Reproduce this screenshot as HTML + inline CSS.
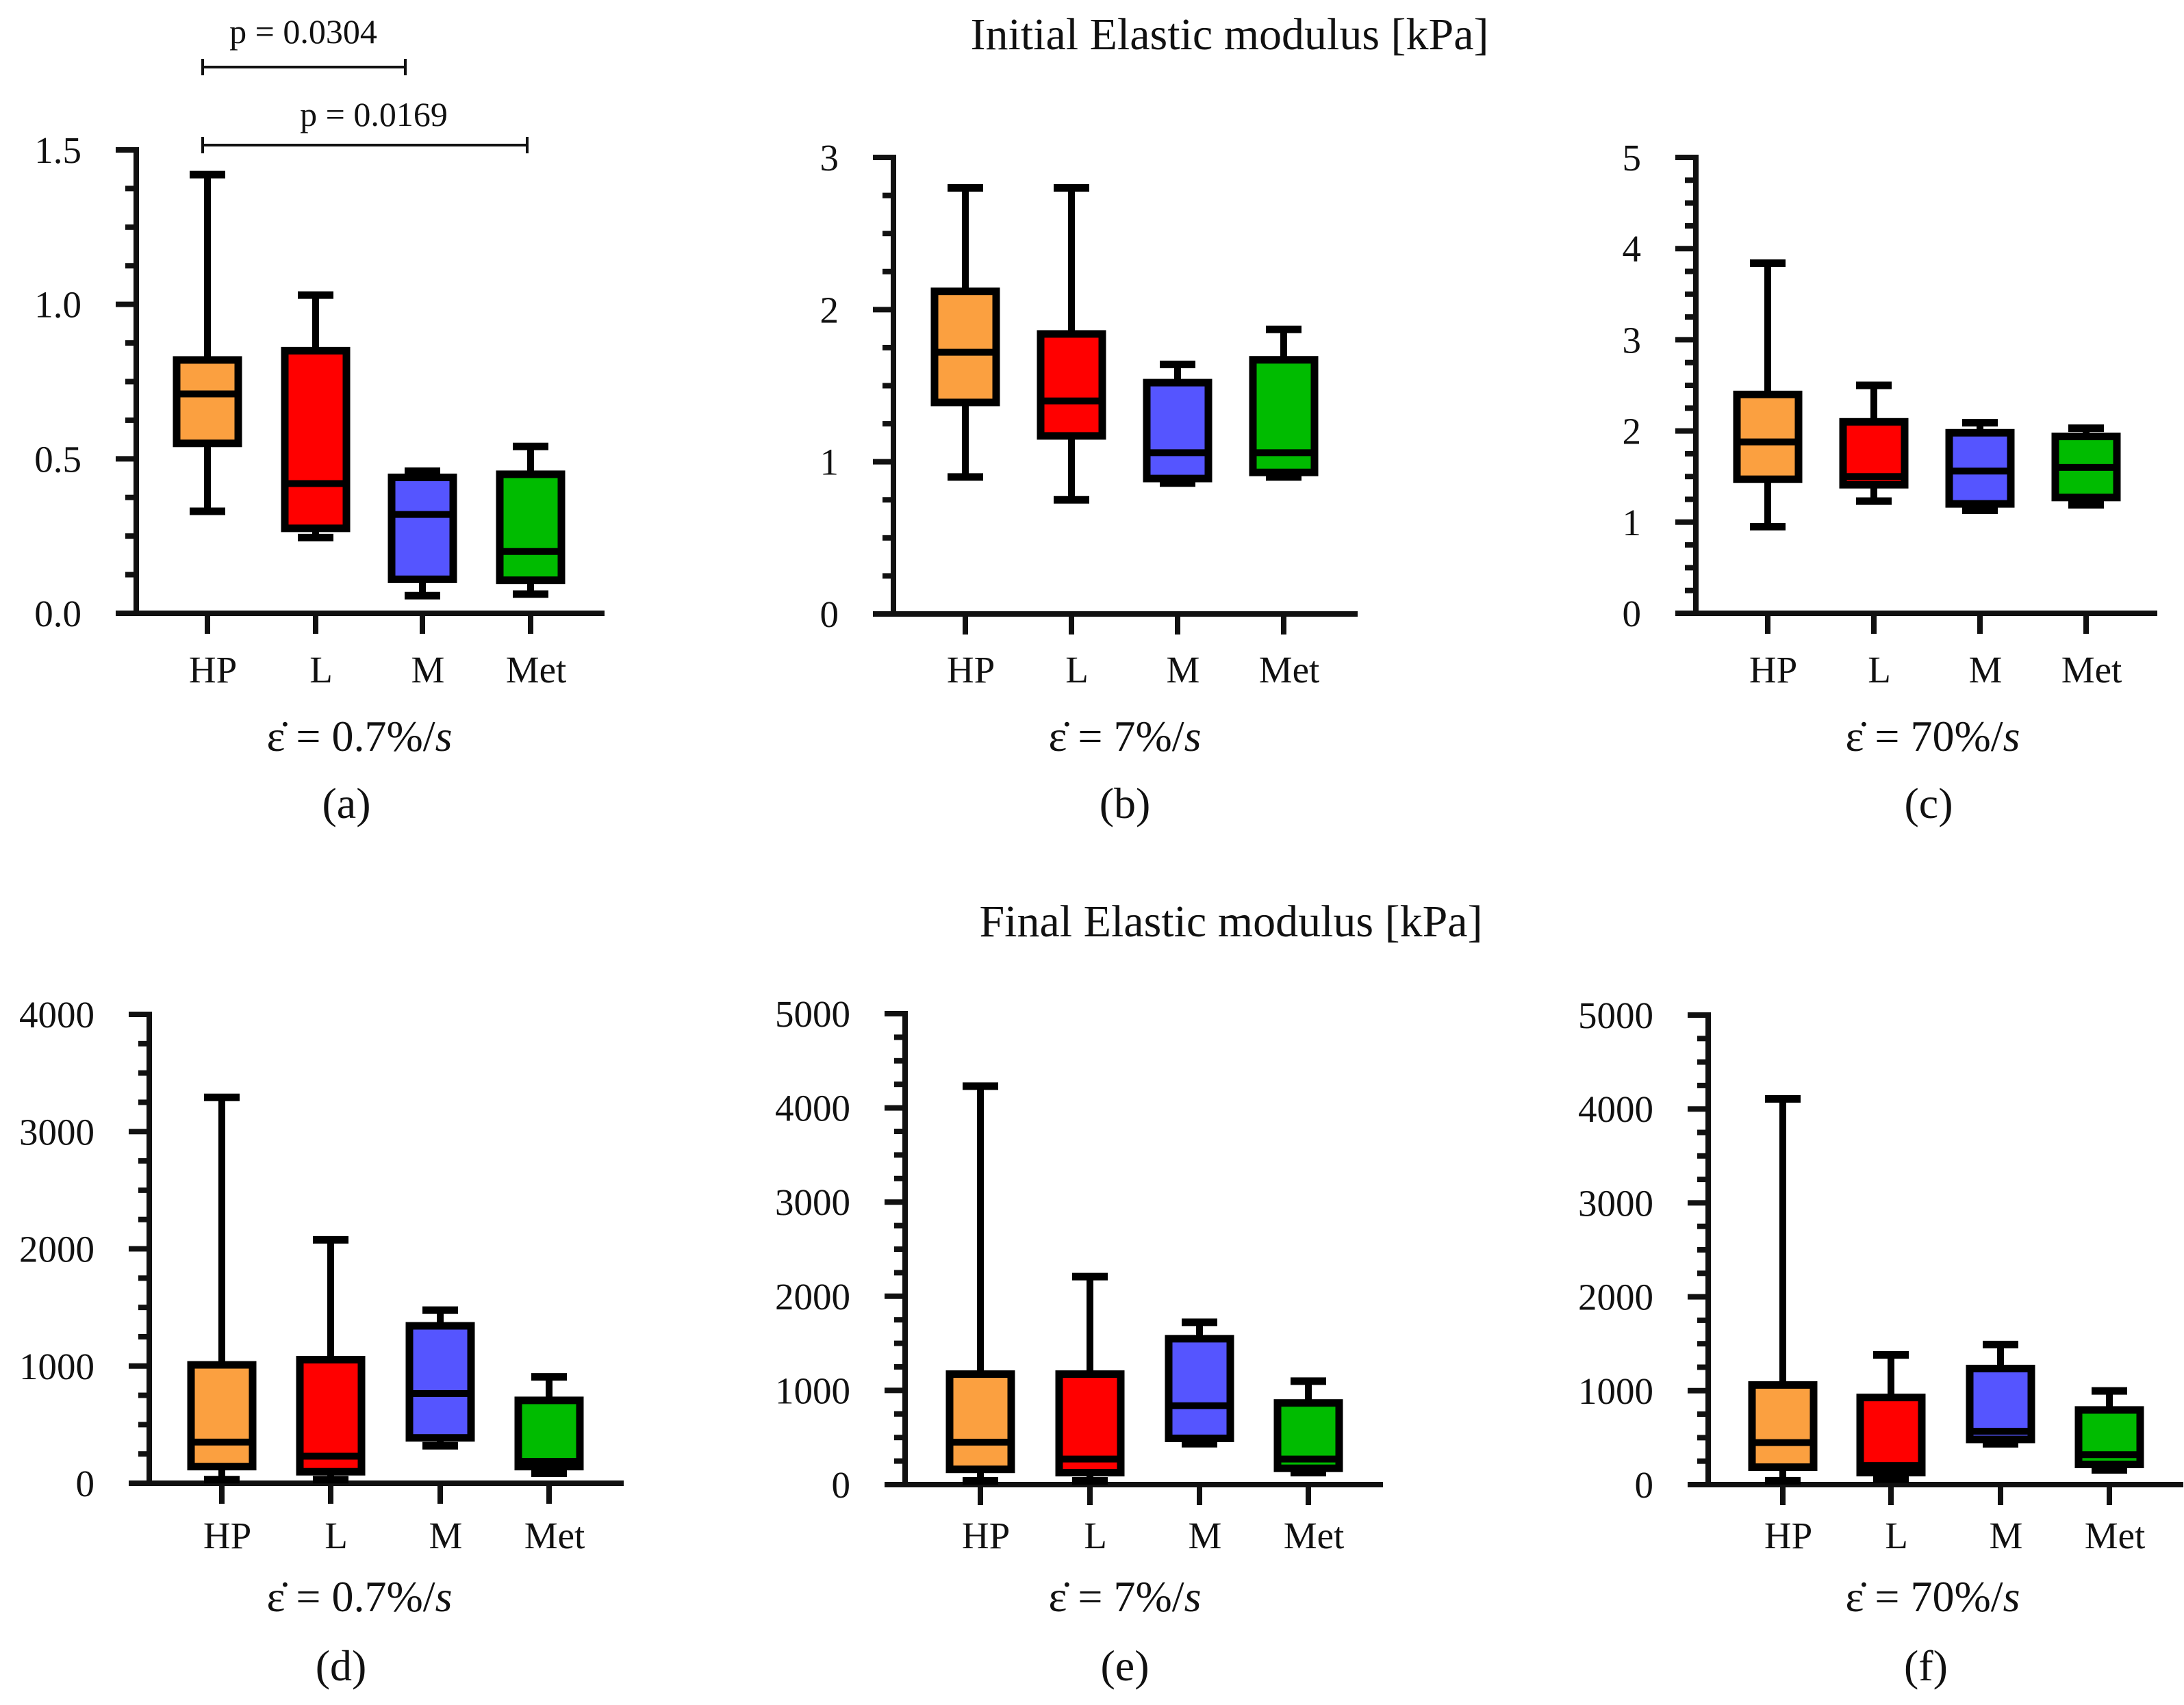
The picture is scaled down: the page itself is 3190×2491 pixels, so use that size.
<!DOCTYPE html>
<html><head><meta charset="utf-8"><style>
html,body{margin:0;padding:0;background:#fff}
svg{display:block}
text{font-family:"Liberation Serif",serif;fill:#111}
</style></head><body>
<svg id="fig" width="3190" height="2491" viewBox="0 0 3190 2491" xmlns="http://www.w3.org/2000/svg">
<text x="1796" y="72" font-size="66" text-anchor="middle">Initial Elastic modulus [kPa]</text>
<text x="1798" y="1368" font-size="66" text-anchor="middle">Final Elastic modulus [kPa]</text>
<g stroke="#111" stroke-width="4">
<line x1="296" y1="98" x2="592" y2="98"/><line x1="296" y1="86" x2="296" y2="110"/><line x1="592" y1="86" x2="592" y2="110"/>
<line x1="296" y1="212" x2="770" y2="212"/><line x1="296" y1="200" x2="296" y2="224"/><line x1="770" y1="200" x2="770" y2="224"/>
</g>
<text x="443" y="63" font-size="50" text-anchor="middle">p = 0.0304</text>
<text x="546" y="184" font-size="50" text-anchor="middle">p = 0.0169</text>
</svg>
<script>
const categories = ["HP","L","M","Met"];
const colors = ["#FBA040","#FF0000","#5555FF","#00BB00"];
// [min, q1, median, q3, max] per category
const seriesA = [[0.33,0.55,0.71,0.82,1.42],[0.245,0.275,0.42,0.85,1.03],[0.057,0.11,0.32,0.44,0.46],[0.062,0.107,0.2,0.45,0.54]];
const seriesB = [[0.90,1.39,1.72,2.12,2.80],[0.75,1.17,1.40,1.84,2.80],[0.86,0.89,1.06,1.52,1.64],[0.90,0.93,1.06,1.67,1.87]];
const seriesC = [[0.95,1.47,1.88,2.40,3.84],[1.23,1.41,1.50,2.10,2.50],[1.13,1.20,1.56,1.98,2.09],[1.19,1.27,1.60,1.94,2.03]];
const seriesD = [[31,142,351,1010,3292],[31,98,231,1054,2077],[320,387,765,1343,1477],[85,142,187,707,907]];
const seriesE = [[40,162,451,1173,4231],[40,127,272,1173,2208],[434,491,838,1549,1723],[127,173,272,867,1098]];
const seriesF = [[41,186,447,1061,4107],[58,128,203,928,1381],[435,481,568,1236,1491],[157,215,319,795,998]];
const ticksA = ["0.0","0.5","1.0","1.5"];
const ticksB = ["0","1","2","3"];
const ticksC = ["0","1","2","3","4","5"];
const ticksD = ["0","1000","2000","3000","4000"];
const ticksE = ["0","1000","2000","3000","4000","5000"];
const ticksF = ["0","1000","2000","3000","4000","5000"];
const tickValsA = [0,0.5,1,1.5];
const tickValsB = [0,1,2,3];
const tickValsC = [0,1,2,3,4,5];
const tickValsD = [0,1000,2000,3000,4000];
const tickValsE = [0,1000,2000,3000,4000,5000];
const tickValsF = [0,1000,2000,3000,4000,5000];

const panels = [
 {id:"a",data:seriesA,ticks:ticksA,tv:tickValsA,max:1.5,ax:199,top:219,bot:896,cx:[303,461,617,775],end:883,rate:"0.7",sx:525,lx:506,sy:1097,ly:1195,cy:997},
 {id:"b",data:seriesB,ticks:ticksB,tv:tickValsB,max:3,ax:1305,top:230,bot:897,cx:[1410,1565,1720,1875],end:1983,rate:"7",sx:1643,lx:1643,sy:1097,ly:1195,cy:997},
 {id:"c",data:seriesC,ticks:ticksC,tv:tickValsC,max:5,ax:2477,top:230,bot:896,cx:[2582,2737,2892,3047],end:3151,rate:"70",sx:2823,lx:2817,sy:1097,ly:1195,cy:997},
 {id:"d",data:seriesD,ticks:ticksD,tv:tickValsD,max:4000,ax:218,top:1482,bot:2167,cx:[324,483,643,802],end:911,rate:"0.7",sx:525,lx:498,sy:2354,ly:2455,cy:2262},
 {id:"e",data:seriesE,ticks:ticksE,tv:tickValsE,max:5000,ax:1322,top:1481,bot:2169,cx:[1432,1592,1752,1911],end:2020,rate:"7",sx:1643,lx:1643,sy:2354,ly:2455,cy:2262},
 {id:"f",data:seriesF,ticks:ticksF,tv:tickValsF,max:5000,ax:2495,top:1483,bot:2169,cx:[2604,2762,2922,3081],end:3189,rate:"70",sx:2823,lx:2813,sy:2354,ly:2455,cy:2262}
];
const NS="http://www.w3.org/2000/svg";
const svg=document.getElementById("fig");
function mk(tag,attrs,parent){const e=document.createElementNS(NS,tag);for(const k in attrs)e.setAttribute(k,attrs[k]);(parent||svg).appendChild(e);return e;}
panels.forEach(p=>{
 const g=mk("g",{});
 
 
 const y=v=>p.bot-(v/p.max)*(p.bot-p.top);
 const nMinor=(p.tv.length-1)*4;
 for(let i=0;i<=nMinor;i++){
  const v=p.max*i/nMinor;const major=i%4===0;
  const t=mk("line",{x1:p.ax-(major?30:16),x2:p.ax,y1:y(v),y2:y(v),stroke:"#111","stroke-width":8},g);
  
  
 }
 p.tv.forEach((v,i)=>{
  const t=mk("text",{x:p.ax-80,y:y(v)+19,"font-size":55,"text-anchor":"end"},g);
  t.textContent=p.ticks[i];
  
  
 });
 const ya=mk("line",{x1:p.ax,x2:p.ax,y1:p.top-4,y2:p.bot+4,stroke:"#111","stroke-width":8},g);
 
 
 const xa=mk("line",{x1:p.ax-30,x2:p.end,y1:p.bot,y2:p.bot,stroke:"#111","stroke-width":8},g);
 
 
 categories.forEach((c,i)=>{
  const cx=p.cx[i];const d=p.data[i];
  const tk=mk("line",{x1:cx,x2:cx,y1:p.bot,y2:p.bot+30,stroke:"#111","stroke-width":8},g);
  
  
  const lb=mk("text",{x:cx+8,y:p.cy,"font-size":55,"text-anchor":"middle"},g);
  lb.textContent=c;
  
  
  const bg=mk("g",{},g);
  
  
  const w=45;
  mk("line",{x1:cx,x2:cx,y1:y(d[4]),y2:y(d[3]),stroke:"#000","stroke-width":10},bg);
  mk("line",{x1:cx,x2:cx,y1:y(d[1]),y2:y(d[0]),stroke:"#000","stroke-width":10},bg);
  mk("line",{x1:cx-26,x2:cx+26,y1:y(d[4]),y2:y(d[4]),stroke:"#000","stroke-width":11},bg);
  mk("line",{x1:cx-26,x2:cx+26,y1:y(d[0]),y2:y(d[0]),stroke:"#000","stroke-width":11},bg);
  mk("rect",{x:cx-w,y:y(d[3]),width:2*w,height:Math.max(1,y(d[1])-y(d[3])),fill:colors[i],stroke:"#000","stroke-width":11},bg);
  mk("line",{x1:cx-w,x2:cx+w,y1:y(d[2]),y2:y(d[2]),stroke:"#000","stroke-width":10},bg);
 });
 const s=mk("text",{x:p.sx,y:p.sy,"font-size":64,"text-anchor":"middle"},g);
 s.innerHTML='ε̇ = '+p.rate+'%/<tspan font-style="italic">s</tspan>';
 
 
 const l=mk("text",{x:p.lx,y:p.ly,"font-size":64,"text-anchor":"middle"},g);
 l.textContent="("+p.id+")";
 
 
});
</script>
</body></html>
